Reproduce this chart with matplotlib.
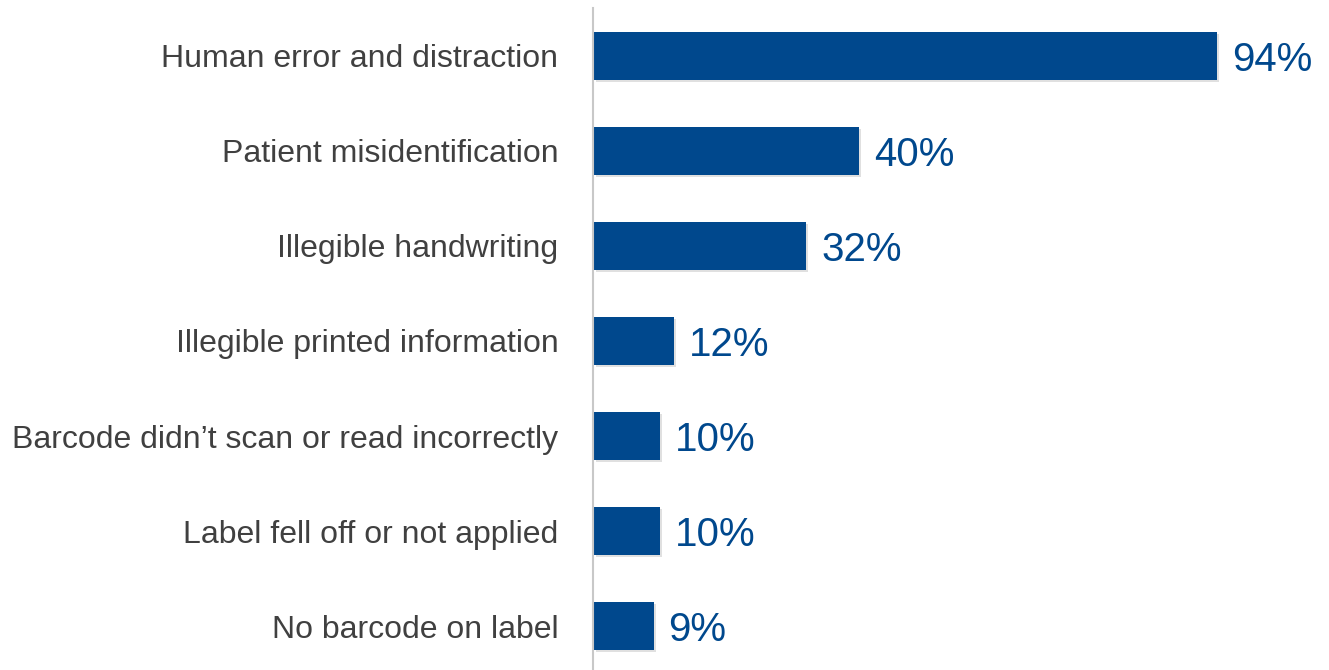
import matplotlib
matplotlib.use("Agg")
import matplotlib.pyplot as plt
import matplotlib.patheffects as pe

# data
categories = [
    "Human error and distraction",
    "Patient misidentification",
    "Illegible handwriting",
    "Illegible printed information",
    "Barcode didn\u2019t scan or read incorrectly",
    "Label fell off or not applied",
    "No barcode on label",
]
values = [94, 40, 32, 12, 10, 10, 9]

BAR_COLOR = "#00488d"
LABEL_COLOR = "#404040"

plt.rcParams["font.family"] = ["Liberation Sans", "DejaVu Sans"]

fig = plt.figure(figsize=(13.29, 6.70), dpi=100)
ax = fig.add_axes([593 / 1329, 0, 1 - 593 / 1329, 662 / 670])

ypos = list(range(len(categories)))
bars = ax.barh(ypos, values, height=0.505, color=BAR_COLOR, left=0.15)
for b in bars:
    b.set_path_effects([pe.SimplePatchShadow(offset=(1.5, -1.5), alpha=0.12, shadow_rgbFace="black"),
                        pe.Normal()])

for y, v in zip(ypos, values):
    ax.text(v + 2.4, y + 0.04, f"{v}%", va="center", ha="left", fontsize=29, color=BAR_COLOR)

ax.set_xlim(0, 111)
ax.set_ylim(6.463, -0.505)
ax.set_yticks(ypos)
ax.set_yticklabels(categories, fontsize=23, color=LABEL_COLOR)
ax.tick_params(axis="y", length=0, pad=25)
ax.set_xticks([])

for side in ["top", "right", "bottom"]:
    ax.spines[side].set_visible(False)
ax.spines["left"].set_color("#c8c8c8")
ax.spines["left"].set_linewidth(1.5)

fig.savefig("out.png", dpi=100)
plt.close(fig)
